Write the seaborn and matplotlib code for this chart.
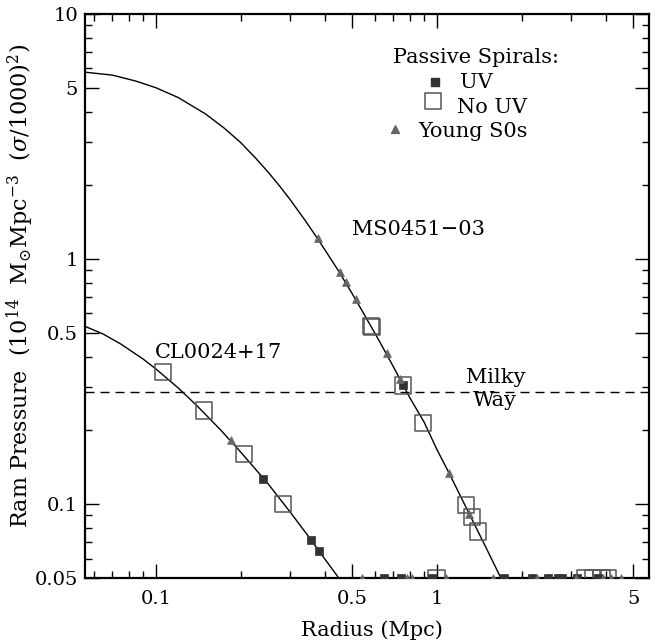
import numpy as np
import pandas as pd
import matplotlib
matplotlib.use("Agg")
import matplotlib.pyplot as plt
import seaborn as sns
from matplotlib.ticker import FixedLocator, FixedFormatter, NullFormatter

# ---------------- data ----------------
# model ram-pressure profiles
ms_curve_r = [0.055, 0.07, 0.085, 0.1, 0.12, 0.15, 0.175, 0.2, 0.225, 0.25,
              0.275, 0.3, 0.34, 0.378, 0.41, 0.45, 0.5, 0.55, 0.62, 0.7, 0.8,
              0.9, 1.0, 1.1, 1.3, 1.5, 1.7]
ms_curve_p = [5.80, 5.63, 5.32, 5.00, 4.56, 3.91, 3.42, 2.99, 2.60, 2.27,
              1.99, 1.75, 1.434, 1.20, 1.04, 0.881, 0.72, 0.596, 0.468, 0.363,
              0.272, 0.216, 0.1668, 0.135, 0.0917, 0.0659, 0.0491]
cl_curve_r = [0.055, 0.065, 0.075, 0.09, 0.1, 0.12, 0.14, 0.17, 0.2, 0.25, 0.3,
              0.35, 0.4, 0.46]
cl_curve_p = [0.536, 0.494, 0.450, 0.391, 0.356, 0.298, 0.252, 0.2006, 0.1634,
              0.1215, 0.093, 0.0735, 0.0595, 0.0478]

# CL0024+17 galaxies
cl_uv_r = [0.241, 0.355, 0.379]
cl_uv_p = [0.1265, 0.0716, 0.0646]
cl_nouv_r = [0.1056, 0.148, 0.205, 0.2825]
cl_nouv_p = [0.346, 0.241, 0.160, 0.100]
cl_s0_r = [0.185]
cl_s0_p = [0.182]

# MS0451-03 galaxies
ms_uv_r = [0.759]
ms_uv_p = [0.305]
ms_nouv_r = [0.582, 0.586, 0.759, 0.889, 1.265, 1.329, 1.403]
ms_nouv_p = [0.532, 0.527, 0.305, 0.215, 0.0991, 0.0888, 0.0774]
ms_s0_r = [0.378, 0.452, 0.473, 0.515, 0.662, 0.738, 1.103, 1.30]
ms_s0_p = [1.22, 0.884, 0.807, 0.689, 0.412, 0.323, 0.1346, 0.0916]

# galaxies beyond the profiles (plotted on the 0.05 floor)
floor_uv_r = [0.649, 0.743, 0.957, 1.727, 2.17, 2.48, 2.70, 2.79, 3.16, 3.75]
floor_uv_p = [0.05] * len(floor_uv_r)
floor_nouv_r = [0.996, 3.35, 3.60, 3.85, 4.05]
floor_nouv_p = [0.05] * len(floor_nouv_r)
floor_s0_r = [0.540, 0.784, 0.813, 1.077, 1.578, 2.26, 3.12, 3.91, 4.15, 4.51]
floor_s0_p = [0.05] * len(floor_s0_r)

milky_way_p = 0.287

x_major = [0.1, 0.5, 1, 5]
x_minor = [0.06, 0.07, 0.08, 0.09, 0.2, 0.3, 0.4, 0.6, 0.7, 0.8, 0.9, 2, 3, 4]
x_labels = ["0.1", "0.5", "1", "5"]
y_major = [0.05, 0.1, 0.5, 1, 5, 10]
y_minor = [0.06, 0.07, 0.08, 0.09, 0.2, 0.3, 0.4, 0.6, 0.7, 0.8, 0.9,
           2, 3, 4, 6, 7, 8, 9]
y_labels = ["0.05", "0.1", "0.5", "1", "5", "10"]

# ---------------- style ----------------
sns.set_theme(style="ticks")
plt.rcParams["font.family"] = ["DejaVu Serif"]
plt.rcParams["mathtext.fontset"] = "dejavuserif"

UV_C = "#333333"
NOUV_C = "#555555"
S0_C = "#666666"
S_UV, S_NOUV, S_S0 = 40, 135, 32

fig = plt.figure(figsize=(6.62, 6.44), dpi=100)
ax = fig.add_axes([0.1284, 0.1025, 0.852, 0.8758])
ax.set_xscale("log")
ax.set_yscale("log")

# curves
sns.lineplot(x=ms_curve_r, y=ms_curve_p, ax=ax, color="black", lw=1.0,
             estimator=None, sort=True, zorder=2)
sns.lineplot(x=cl_curve_r, y=cl_curve_p, ax=ax, color="black", lw=1.0,
             estimator=None, sort=True, zorder=2)
ax.axhline(milky_way_p, color="black", lw=1.0, dashes=(6.5, 4.3), zorder=1)

def pts(r, p, kind):
    if kind == "uv":
        sns.scatterplot(x=r, y=p, ax=ax, marker="s", s=S_UV, color=UV_C,
                        edgecolor=UV_C, linewidth=0.5, zorder=4)
    elif kind == "nouv":
        sns.scatterplot(x=r, y=p, ax=ax, marker="s", s=S_NOUV,
                        facecolors="none", edgecolor=NOUV_C, linewidth=1.1,
                        zorder=3)
    else:
        sns.scatterplot(x=r, y=p, ax=ax, marker="^", s=S_S0, color=S0_C,
                        edgecolor=S0_C, linewidth=0.5, zorder=4)

for r, p, k in [(cl_nouv_r, cl_nouv_p, "nouv"), (ms_nouv_r, ms_nouv_p, "nouv"),
                (floor_nouv_r, floor_nouv_p, "nouv"),
                (cl_uv_r, cl_uv_p, "uv"), (ms_uv_r, ms_uv_p, "uv"),
                (floor_uv_r, floor_uv_p, "uv"),
                (cl_s0_r, cl_s0_p, "s0"), (ms_s0_r, ms_s0_p, "s0"),
                (floor_s0_r, floor_s0_p, "s0")]:
    pts(r, p, k)

ax.set_xlim(0.0559, 5.68)
ax.set_ylim(0.05, 10)

# ticks
ax.xaxis.set_major_locator(FixedLocator(x_major))
ax.xaxis.set_major_formatter(FixedFormatter(x_labels))
ax.xaxis.set_minor_locator(FixedLocator(x_minor))
ax.xaxis.set_minor_formatter(NullFormatter())
ax.yaxis.set_major_locator(FixedLocator(y_major))
ax.yaxis.set_major_formatter(FixedFormatter(y_labels))
ax.yaxis.set_minor_locator(FixedLocator(y_minor))
ax.yaxis.set_minor_formatter(NullFormatter())
ax.tick_params(which="both", direction="in", top=True, right=True,
               color="black", width=1.0, labelsize=14, labelcolor="black")
ax.tick_params(which="major", length=10)
ax.tick_params(which="minor", length=5)
ax.tick_params(axis="x", which="major", pad=9)
ax.tick_params(axis="y", which="major", pad=5)
for sp in ax.spines.values():
    sp.set_visible(True)
    sp.set_linewidth(1.6)
    sp.set_color("black")

ax.set_xlabel("Radius (Mpc)", fontsize=15, color="black")
ax.set_ylabel(r"Ram Pressure  (10$^{14}$  M$_{\odot}$Mpc$^{-3}$  ($\sigma$/1000)$^{2}$)",
              fontsize=16, color="black")
ax.xaxis.set_label_coords(0.509, -0.075)
ax.yaxis.set_label_coords(-0.087, 0.518)

# annotations (axes-fraction layout)
T = dict(transform=ax.transAxes, fontsize=15, color="black", va="baseline",
         ha="center")
ax.text(0.694, 0.913, "Passive Spirals:", **T)
ax.text(0.694, 0.868, "UV", **T)
ax.text(0.722, 0.825, "No UV", **T)
ax.text(0.6885, 0.7825, "Young S0s", **T)
ax.text(0.591, 0.608, "MS0451\u221203", **T)
ax.text(0.7287, 0.3463, "Milky", **T)
ax.text(0.727, 0.305, "Way", **T)
ax.text(0.2364, 0.3895, "CL0024+17", **T)

# legend glyphs
ax.scatter([0.6206], [0.8789], transform=ax.transAxes, marker="s", s=S_UV,
           color=UV_C, zorder=5)
ax.scatter([0.6176], [0.8463], transform=ax.transAxes, marker="s", s=S_NOUV,
           facecolors="none", edgecolors=NOUV_C, linewidths=1.1, zorder=5)
ax.scatter([0.5496], [0.7956], transform=ax.transAxes, marker="^", s=S_S0,
           color=S0_C, zorder=5)

fig.savefig("out.png", dpi=100)
